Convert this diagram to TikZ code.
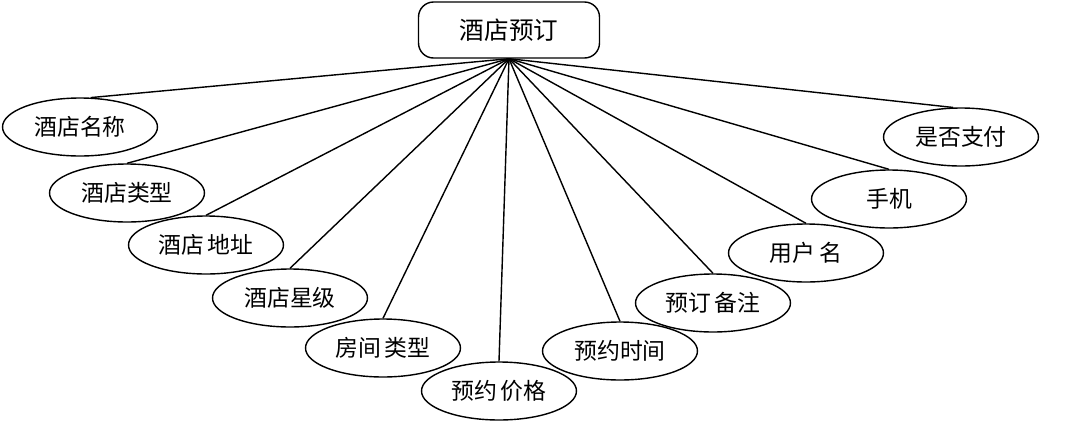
\documentclass[tikz,border=0pt]{standalone}
\usepackage{fontspec}
\newfontfamily\cjk{Noto Sans CJK SC}
\usetikzlibrary{shapes.geometric}
\begin{document}
\begin{tikzpicture}[%
    x=0.02cm,y=-0.02cm,%
    entity/.style={draw,line width=0.8pt,rounded corners=0.3cm,%
        minimum width=3.62cm,minimum height=1.12cm,inner sep=0pt,%
        font=\cjk\fontsize{14}{16}\selectfont},%
    attr/.style={draw,ellipse,line width=0.8pt,%
        minimum width=3.1cm,minimum height=1.16cm,inner sep=0pt,%
        font=\cjk\fontsize{13}{15}\selectfont},%
    link/.style={draw,line width=0.8pt},%
]%
    \useasboundingbox (0,0) rectangle (1083,437);

    % entity
    \node[entity] (root) at (509,30) {酒店预订};

    % attributes and their links
    \foreach \n/\px/\py/\txt/\ang in {%
        1/80/127/酒店名称/70,%
        2/127/193/酒店类型/north,%
        3/206/245/酒店\,地址/north,%
        4/290/298/酒店星级/north,%
        5/383/348/房间\,类型/north,%
        6/499/391/预约\,价格/north,%
        7/620/351/预约时间/north,%
        8/713/303/预订\,备注/north,%
        9/806/253/用户\,名/north,%
        10/889/199/手机/north,%
        11/961/137/是否支付/105}{%
        \node[attr] (e\n) at (\px,\py) {\txt};
        \path[link] (root.south) -- (e\n.\ang);
    }
\end{tikzpicture}
\end{document}
